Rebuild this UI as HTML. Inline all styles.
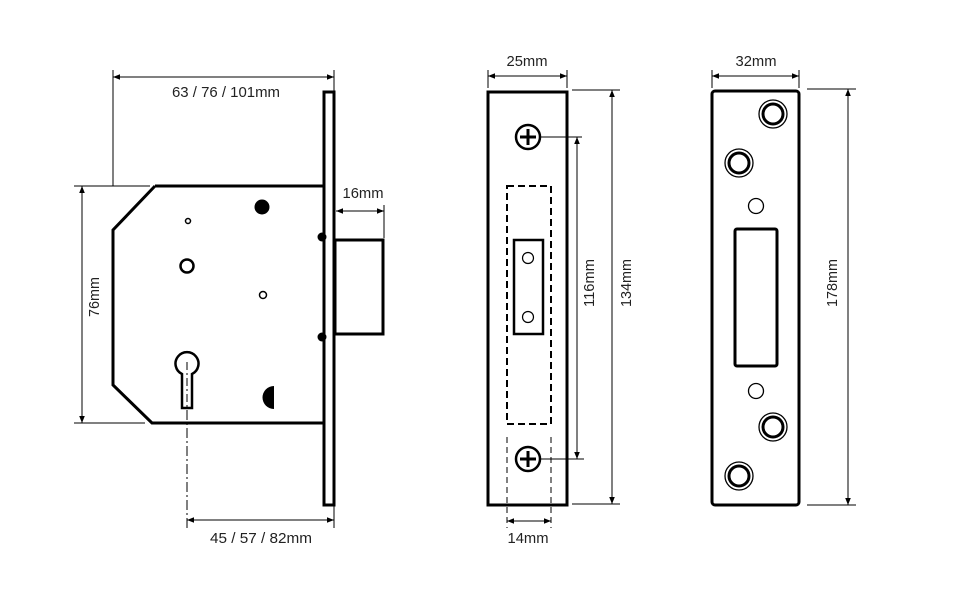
<!DOCTYPE html>
<html><head><meta charset="utf-8"><style>
html,body{margin:0;padding:0;background:#fff;}
svg{display:block;}
text{font-family:"Liberation Sans",sans-serif;font-size:15px;fill:#222;}
</style></head><body>
<svg width="976" height="592" viewBox="0 0 976 592" xmlns="http://www.w3.org/2000/svg">
<defs>
<marker id="a" viewBox="0 0 10 10" refX="10" refY="5" markerWidth="10" markerHeight="7" orient="auto-start-reverse" markerUnits="userSpaceOnUse"><path d="M0,1 L10,5 L0,9 Z" fill="#000"/></marker>
</defs>
<g stroke="#000" fill="none">
<g stroke-width="1">
<line x1="113" y1="70" x2="113" y2="186"/>
<line x1="334" y1="70" x2="334" y2="92"/>
<line x1="113" y1="77" x2="334" y2="77" marker-start="url(#a)" marker-end="url(#a)"/>
<line x1="74" y1="186" x2="150" y2="186"/>
<line x1="74" y1="423" x2="145" y2="423"/>
<line x1="82" y1="186" x2="82" y2="423" marker-start="url(#a)" marker-end="url(#a)"/>
<line x1="384" y1="205" x2="384" y2="238"/>
<line x1="336" y1="211" x2="384" y2="211" marker-start="url(#a)" marker-end="url(#a)"/>
<line x1="187" y1="410" x2="187" y2="528" stroke-dasharray="10,3,2,3"/>
<line x1="334" y1="505" x2="334" y2="528"/>
<line x1="187" y1="520" x2="334" y2="520" marker-start="url(#a)" marker-end="url(#a)"/>
</g>
<path d="M155,186 L323,186 M323,423 L152,423 L113,385 L113,230 L155,186" stroke-width="3"/>
<rect x="324" y="92" width="10" height="413" stroke-width="3"/>
<rect x="335" y="240" width="48" height="94" stroke-width="3"/>
<circle cx="188" cy="221" r="2.5" stroke-width="1.5"/>
<circle cx="187" cy="266" r="6.5" stroke-width="2.5"/>
<circle cx="262" cy="207" r="7.5" fill="#000" stroke="none"/>
<circle cx="263" cy="295" r="3.5" stroke-width="1.5"/>
<circle cx="322" cy="237" r="4.5" fill="#000" stroke="none"/>
<circle cx="322" cy="337" r="4.5" fill="#000" stroke="none"/>
<path d="M182,408 L182,374 A11.5,11.5 0 1 1 192,374 L192,408 Z" stroke-width="2.5" fill="#fff"/>
<path d="M274,386 A11,11 0 0 0 274,409 Z" fill="#000" stroke="none"/>
<line x1="187" y1="362" x2="187" y2="408" stroke-width="1" stroke-dasharray="8,3,2,3"/>
<g stroke-width="1">
<line x1="488" y1="70" x2="488" y2="88"/>
<line x1="567" y1="70" x2="567" y2="88"/>
<line x1="488" y1="76" x2="567" y2="76" marker-start="url(#a)" marker-end="url(#a)"/>
<line x1="528" y1="137" x2="582" y2="137"/>
<line x1="528" y1="459" x2="584" y2="459"/>
<line x1="577" y1="137" x2="577" y2="459" marker-start="url(#a)" marker-end="url(#a)"/>
<line x1="572" y1="90" x2="620" y2="90"/>
<line x1="572" y1="504" x2="620" y2="504"/>
<line x1="612" y1="90" x2="612" y2="504" marker-start="url(#a)" marker-end="url(#a)"/>
<line x1="507" y1="437" x2="507" y2="528" stroke-dasharray="6,4"/>
<line x1="551" y1="437" x2="551" y2="528" stroke-dasharray="6,4"/>
<line x1="507" y1="521" x2="551" y2="521" marker-start="url(#a)" marker-end="url(#a)"/>
</g>
<rect x="488" y="92" width="79" height="413" stroke-width="3"/>
<rect x="507" y="186" width="44" height="238" stroke-width="2" stroke-dasharray="7,4"/>
<rect x="514" y="240" width="29" height="94" stroke-width="2.5"/>
<circle cx="528" cy="258" r="5.5" stroke-width="1.2"/>
<circle cx="528" cy="317" r="5.5" stroke-width="1.2"/>
<circle cx="528" cy="137" r="12" stroke-width="2.5" fill="#fff"/>
<path d="M520,137 H536 M528,129 V145" stroke-width="3"/>
<circle cx="528" cy="459" r="12" stroke-width="2.5" fill="#fff"/>
<path d="M520,459 H536 M528,451 V467" stroke-width="3"/>
<g stroke-width="1">
<line x1="712" y1="70" x2="712" y2="88"/>
<line x1="799" y1="70" x2="799" y2="88"/>
<line x1="712" y1="76" x2="799" y2="76" marker-start="url(#a)" marker-end="url(#a)"/>
<line x1="807" y1="89" x2="856" y2="89"/>
<line x1="807" y1="505" x2="856" y2="505"/>
<line x1="848" y1="89" x2="848" y2="505" marker-start="url(#a)" marker-end="url(#a)"/>
</g>
<rect x="712" y="91" width="87" height="414" rx="3" stroke-width="3"/>
<rect x="735" y="229" width="42" height="137" rx="2" stroke-width="3"/>
<g stroke-width="1.3">
<circle cx="773" cy="114" r="14"/><circle cx="739" cy="163" r="14"/>
<circle cx="773" cy="427" r="14"/><circle cx="739" cy="476" r="14"/>
<circle cx="756" cy="206" r="7.5"/><circle cx="756" cy="391" r="7.5"/>
</g>
<g stroke-width="3">
<circle cx="773" cy="114" r="10"/><circle cx="739" cy="163" r="10"/>
<circle cx="773" cy="427" r="10"/><circle cx="739" cy="476" r="10"/>
</g>
</g>
<g lengthAdjust="spacingAndGlyphs">
<text x="226" y="97" text-anchor="middle" textLength="108" lengthAdjust="spacingAndGlyphs">63 / 76 / 101mm</text>
<text x="363" y="198" text-anchor="middle" textLength="41" lengthAdjust="spacingAndGlyphs">16mm</text>
<text x="261" y="543" text-anchor="middle" textLength="102" lengthAdjust="spacingAndGlyphs">45 / 57 / 82mm</text>
<text transform="translate(99,297) rotate(-90)" text-anchor="middle" textLength="40" lengthAdjust="spacingAndGlyphs">76mm</text>
<text x="527" y="66" text-anchor="middle" textLength="41" lengthAdjust="spacingAndGlyphs">25mm</text>
<text x="528" y="543" text-anchor="middle" textLength="41" lengthAdjust="spacingAndGlyphs">14mm</text>
<text transform="translate(594,283) rotate(-90)" text-anchor="middle" textLength="48" lengthAdjust="spacingAndGlyphs">116mm</text>
<text transform="translate(631,283) rotate(-90)" text-anchor="middle" textLength="48" lengthAdjust="spacingAndGlyphs">134mm</text>
<text x="756" y="66" text-anchor="middle" textLength="41" lengthAdjust="spacingAndGlyphs">32mm</text>
<text transform="translate(837,283) rotate(-90)" text-anchor="middle" textLength="48" lengthAdjust="spacingAndGlyphs">178mm</text>
</g>
</svg>
</body></html>
